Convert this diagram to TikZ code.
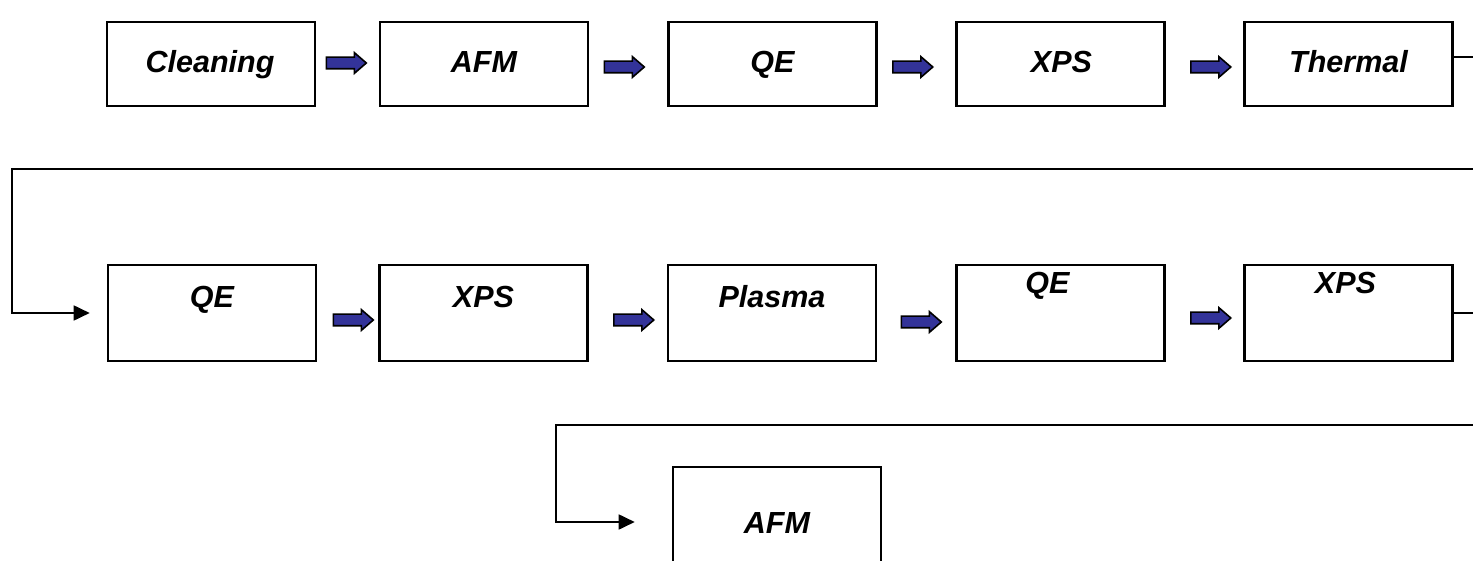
\documentclass[tikz,border=0pt]{standalone}
\usepackage{fontspec}
\setmainfont{Liberation Sans}
\usetikzlibrary{calc,arrows.meta}

\definecolor{arrowblue}{RGB}{51,51,153}

\tikzset{
  stepbox/.style={draw=black, line width=2.6pt, minimum width=208pt, inner sep=0pt, fill=white},
  rowone/.style={stepbox, minimum height=84pt},
  rowtwo/.style={stepbox, minimum height=96pt},
  lbl/.style={font=\fontsize{30.5}{36}\selectfont\bfseries\itshape, text height=22pt, text depth=0pt, inner sep=0pt},
  link/.style={draw=black, line width=1.8pt},
  linkarrow/.style={link, -{Triangle[length=16pt,width=15pt]}},
  blockarrow/.pic={
    \draw[fill=arrowblue, draw=black, line width=1.6pt, line join=miter]
      (0,-5.8) -- (28,-5.8) -- (28,-10.4) -- (40,0) -- (28,10.4) -- (28,5.8) -- (0,5.8) -- cycle;
  }
}

\begin{document}
\begin{tikzpicture}[x=1pt, y=-1pt]
  \useasboundingbox (0,0) rectangle (1473,561);
  \clip (0,0) rectangle (1473,561);

  % first row
  \node[rowone] (c1) at (211,64)    {}; \node[lbl] at ($(c1.center)+(-1,-2)$) {Cleaning};
  \node[rowone] (c2) at (484,64)    {}; \node[lbl] at ($(c2.center)+(0,-2)$) {AFM};
  \node[rowone] (c3) at (772.5,64)  {}; \node[lbl] at ($(c3.center)+(0,-2)$) {QE};
  \node[rowone] (c4) at (1060.5,64) {}; \node[lbl] at ($(c4.center)+(1,-2)$) {XPS};
  \node[rowone] (c5) at (1348.5,64) {}; \node[lbl] at ($(c5.center)+(0,-2)$) {Thermal};

  \pic at ($(c1.east)+(10,-1)$) {blockarrow};
  \pic at ($(c2.east)+(15,3)$)  {blockarrow};
  \pic at ($(c3.east)+(15,3)$)  {blockarrow};
  \pic at ($(c4.east)+(25,3)$)  {blockarrow};

  % second row
  \node[rowtwo] (d1) at (212,313)    {}; \node[lbl] at ($(d1.center)+(0,-16)$) {QE};
  \node[rowtwo] (d2) at (483.5,313)  {}; \node[lbl] at ($(d2.center)+(0,-16)$) {XPS};
  \node[rowtwo] (d3) at (772,313)    {}; \node[lbl] at ($(d3.center)+(0,-16)$) {Plasma};
  \node[rowtwo] (d4) at (1060.5,313) {}; \node[lbl] at ($(d4.center)+(-13,-30)$) {QE};
  \node[rowtwo] (d5) at (1348.5,313) {}; \node[lbl] at ($(d5.center)+(-3,-30)$) {XPS};

  \pic at ($(d1.east)+(16,7)$) {blockarrow};
  \pic at ($(d2.east)+(25,7)$) {blockarrow};
  \pic at ($(d3.east)+(24,9)$) {blockarrow};
  \pic at ($(d4.east)+(25,5)$) {blockarrow};

  % third row
  \node[rowtwo] (e1) at (777,515) {}; \node[lbl] at ($(e1.center)+(0,7)$) {AFM};

  % return lines
  \coordinate (out1) at (1473,57);
  \coordinate (back1) at (1473,169);
  \coordinate (left1) at (12,169);
  \coordinate (in1) at ($(d1.west)+(-17,0)$);
  \draw[link] (c5.east |- out1) -- (out1);
  \draw[linkarrow] (back1) -- (left1) |- (in1);

  \coordinate (out2) at (1473,313);
  \coordinate (back2) at (1473,425);
  \coordinate (left2) at (556,425);
  \coordinate (in2) at ($(e1.west)+(-37,7)$);
  \draw[link] (d5.east |- out2) -- (out2);
  \draw[linkarrow] (back2) -- (left2) |- (in2);
\end{tikzpicture}
\end{document}
